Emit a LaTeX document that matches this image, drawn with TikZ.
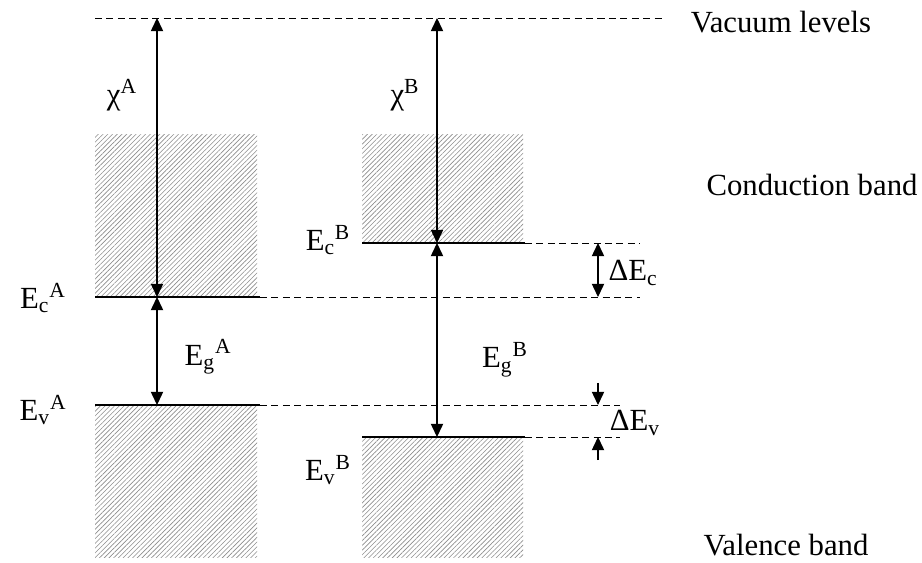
\documentclass[tikz,border=0pt]{standalone}
\usepackage{fontspec}
\setmainfont{Liberation Serif}
\usetikzlibrary{arrows.meta,patterns.meta}

\begin{document}
\begin{tikzpicture}[
  x=0.02cm, y=-0.02cm,
  >={Triangle[length=7.5pt,width=7pt]},
  font=\fontsize{17.5}{20}\selectfont,
  band/.style={pattern={Lines[angle=45,distance=1.9pt,line width=0.35pt]}, pattern color=gray!90},
  level/.style={line width=0.8pt},
  guide/.style={line width=0.5pt, dash pattern=on 4pt off 2.5pt},
  arrow/.style={<->, line width=0.6pt},
  single/.style={->, line width=0.6pt},
  lbl/.style={inner sep=0pt}
]
\useasboundingbox (0,0) rectangle (922,563);

% hatched bands
\fill[band] (95,135) rectangle (257,297);
\fill[band] (95,405) rectangle (257,557);
\fill[band] (362,135) rectangle (523,243);
\fill[band] (362,437) rectangle (523,557);

% levels
\coordinate (vacL) at (95,18);   \coordinate (vacR) at (665,18);
\coordinate (ecAL) at (95,297);  \coordinate (ecAM) at (260,297);  \coordinate (ecAR) at (640,297);
\coordinate (evAL) at (95,405);  \coordinate (evAM) at (260,405);  \coordinate (evAR) at (620,405);
\coordinate (ecBL) at (362,243); \coordinate (ecBM) at (525,243);  \coordinate (ecBR) at (640,243);
\coordinate (evBL) at (362,437); \coordinate (evBM) at (525,437);  \coordinate (evBR) at (620,437);

\draw[guide] (vacL) -- (vacR);
\draw[level] (ecAL) -- (ecAM);  \draw[guide] (ecAM) -- (ecAR);
\draw[level] (evAL) -- (evAM);  \draw[guide] (evAM) -- (evAR);
\draw[level] (ecBL) -- (ecBM);  \draw[guide] (ecBM) -- (ecBR);
\draw[level] (evBL) -- (evBM);  \draw[guide] (evBM) -- (evBR);

% arrows
\coordinate (vacA) at (157,18);  \coordinate (cA) at (157,297); \coordinate (vA) at (157,405);
\coordinate (vacB) at (437,18);  \coordinate (cB) at (437,243); \coordinate (vB) at (437,437);
\draw[arrow] (vacA) -- (cA);
\draw[arrow] (cA) -- (vA);
\draw[arrow] (vacB) -- (cB);
\draw[arrow] (cB) -- (vB);

\coordinate (dcT) at (598,243); \coordinate (dcB) at (598,297);
\draw[arrow] (dcT) -- (dcB);
\coordinate (dvT) at (598,383); \coordinate (dv1) at (598,405);
\coordinate (dvB) at (598,460); \coordinate (dv2) at (598,437);
\draw[single] (dvT) -- (dv1);
\draw[single] (dvB) -- (dv2);

% labels
\node[lbl] (chiA) at (122,95) {χ\textsuperscript{A}};
\node[lbl] (chiB) at (405,95) {χ\textsuperscript{B}};
\node[lbl] (EcA) at (43,298) {E\textsubscript{c}\textsuperscript{A}};
\node[lbl] (EvA) at (43,410) {E\textsubscript{v}\textsuperscript{A}};
\node[lbl] (EgA) at (208,357) {E\textsubscript{g}\textsuperscript{A}};
\node[lbl] (EcB) at (328,240) {E\textsubscript{c}\textsuperscript{B}};
\node[lbl] (EvB) at (328,470) {E\textsubscript{v}\textsuperscript{B}};
\node[lbl] (EgB) at (505,360) {E\textsubscript{g}\textsuperscript{B}};
\node[lbl] (dEc) at (633,273) {ΔE\textsubscript{c}};
\node[lbl] (dEv) at (635,423) {ΔE\textsubscript{v}};
\node[lbl] (vac) at (781,22) {Vacuum levels};
\node[lbl] (cond) at (812,185) {Conduction band};
\node[lbl] (val) at (786,545) {Valence band};
\end{tikzpicture}
\end{document}
